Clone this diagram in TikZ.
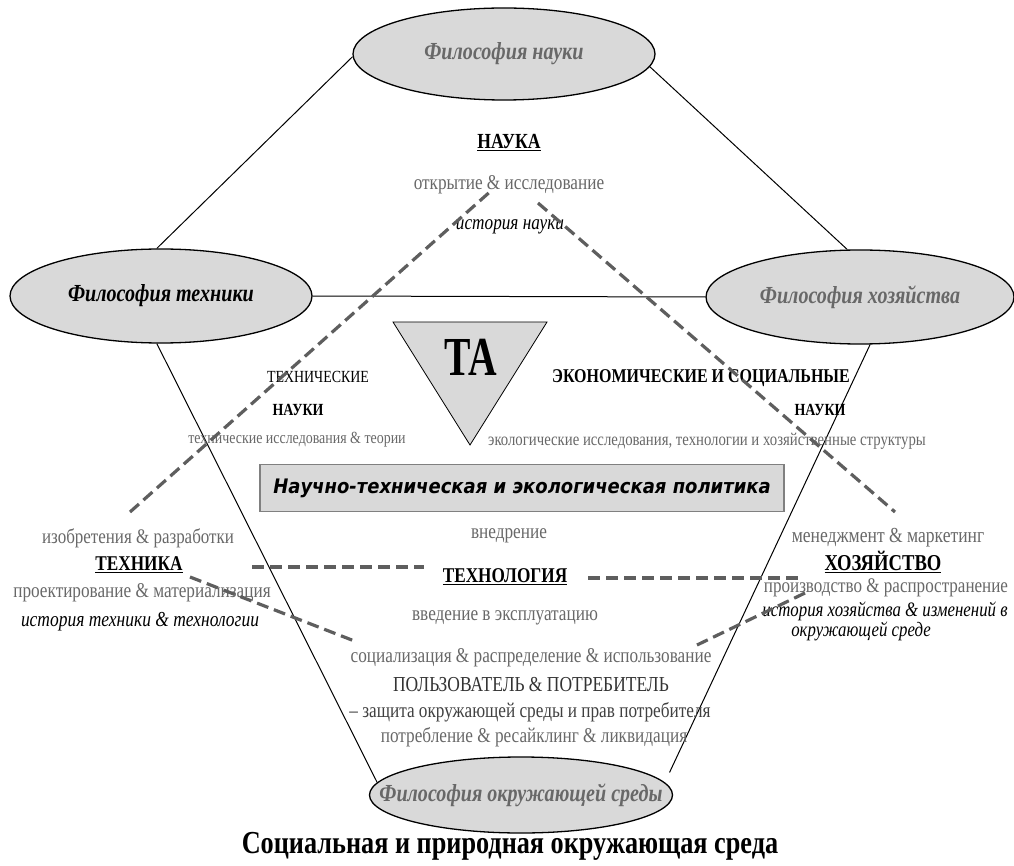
\documentclass[tikz,border=0pt]{standalone}
\usepackage{fontspec}
\setmainfont{Liberation Serif}[FakeStretch=0.82]
\newfontfamily\tafont{Liberation Serif}[FakeStretch=0.72]
\newfontfamily\boxfont{DejaVu Sans}[FakeStretch=0.9]
\usetikzlibrary{shapes.geometric}
\definecolor{fillg}{HTML}{D9D9D9}
\definecolor{txtg}{HTML}{686868}
\definecolor{dashg}{HTML}{5E5E5E}
\definecolor{boxline}{HTML}{808080}
\begin{document}
\begin{tikzpicture}[x=1pt,y=-1pt,
  phil/.style={ellipse, draw=black, line width=1.3pt, fill=fillg, inner sep=0pt,
    font=\fontsize{24.5}{26}\selectfont\bfseries\itshape},
  conn/.style={line width=1pt},
  dsh/.style={draw=dashg, line width=3.2pt, dash pattern=on 12pt off 6pt},
  t/.style={inner sep=0pt, anchor=center},
  g/.style={t, text=txtg},
]
\useasboundingbox (0,0) rectangle (1014,866);

% ellipses
\node[phil, minimum width=302, minimum height=92, text=txtg] (fn) at (504,54) {\makebox[0pt]{Философия науки}};
\node[phil, minimum width=302, minimum height=94, text=black] (ft) at (161,296) {\makebox[0pt]{Философия техники}};
\node[phil, minimum width=308, minimum height=94, text=txtg] (fh) at (860,297) {\makebox[0pt]{Философия хозяйства}};
\node[phil, minimum width=303, minimum height=76, text=txtg] (fo) at (521,795) {\makebox[0pt]{Философия окружающей среды}};

% solid connectors
\draw[conn] (fn.181) -- (ft.95);
\draw[conn] (fn.-5) -- (fh.105);
\draw[conn] (ft.east) -- (fh.west);
\draw[conn] (ft.265) -- (fo.175);
\draw[conn, shorten >=11pt] (fh.-78) -- (fo.5);

% triangle TA
\filldraw[fill=fillg, draw=black, line width=0.8pt] (393,322) -- (547,322) -- (470,445) -- cycle;
\node[t, font=\tafont\fontsize{55}{57}\selectfont\bfseries] (ta) at (471,357) {TA};

% policy box
\node[draw=boxline, line width=1.3pt, fill=fillg, minimum width=524, minimum height=47,
  font=\boxfont\fontsize{20}{22}\selectfont\bfseries\itshape] (pol) at (522,488)
  {Научно-техническая и экологическая политика};

% NAUKA block
\node[t, font=\fontsize{21.5}{23}\selectfont\bfseries] (nauka) at (509,143) {\underline{НАУКА}};
\node[g, font=\fontsize{21}{23}\selectfont] (otkr) at (509,185) {открытие \& исследование};
\node[t, font=\fontsize{21}{23}\selectfont\itshape] (istn) at (510,227) {история науки};

% technical sciences
\node[t, font=\fontsize{17}{19}\selectfont] (tn1) at (318,377) {ТЕХНИЧЕСКИЕ};
\node[t, font=\fontsize{17}{19}\selectfont\bfseries] (tn2) at (298,410) {НАУКИ};
\node[g, font=\fontsize{17}{19}\selectfont] (tn3) at (297,440) {технические исследования \& теории};

% economic sciences
\node[t, font=\fontsize{19.5}{21}\selectfont\bfseries] (en1) at (701,378) {ЭКОНОМИЧЕСКИЕ И СОЦИАЛЬНЫЕ};
\node[t, font=\fontsize{17}{19}\selectfont\bfseries] (en2) at (820,410) {НАУКИ};
\node[g, font=\fontsize{18}{20}\selectfont] (en3) at (707,441) {экологические исследования, технологии и хозяйственные структуры};

% TEHNIKA block
\node[g, font=\fontsize{20.7}{22}\selectfont] (izob) at (138,538) {изобретения \& разработки};
\node[t, font=\fontsize{21}{23}\selectfont\bfseries] (tech) at (139,565) {\underline{ТЕХНИКА}};
\node[g, font=\fontsize{21}{23}\selectfont] (proe) at (142,593) {проектирование \& материализация};
\node[t, font=\fontsize{21.3}{23}\selectfont\itshape] (istt) at (140,622) {история техники \& технологии};

% TECHNOLOGY block
\node[g, font=\fontsize{21}{23}\selectfont] (vned) at (509,536) {внедрение};
\node[t, font=\fontsize{21}{23}\selectfont\bfseries] (tlg) at (505,577) {\underline{ТЕХНОЛОГИЯ}};
\node[g, font=\fontsize{21}{23}\selectfont] (vvd) at (505,618) {введение в эксплуатацию};

% user block
\node[g, font=\fontsize{21}{23}\selectfont] (soc) at (531,658) {социализация \& распределение \& использование};
\node[t, text=black!80, font=\fontsize{21.3}{23}\selectfont] (pol2) at (531,685) {ПОЛЬЗОВАТЕЛЬ \& ПОТРЕБИТЕЛЬ};
\node[t, text=black!75, font=\fontsize{21}{23}\selectfont] (zash) at (530,712) {– защита окружающей среды и прав потребителя};
\node[g, font=\fontsize{21}{23}\selectfont] (potr) at (534,737) {потребление \& ресайклинг \& ликвидация};

% HOZ block
\node[g, font=\fontsize{21.4}{23}\selectfont] (men) at (888,538) {менеджмент \& маркетинг};
\node[t, font=\fontsize{22.7}{24}\selectfont\bfseries] (hoz) at (883,562) {\underline{ХОЗЯЙСТВО}};
\node[g, font=\fontsize{20.8}{22}\selectfont] (proi) at (886,588) {производство \& распространение};
\node[t, font=\fontsize{20.5}{22}\selectfont\itshape] (isth1) at (885,611) {история хозяйства \& изменений в};
\node[t, font=\fontsize{20.5}{22}\selectfont\itshape] (isth2) at (861,631) {окружающей среде};

% bottom caption
\node[t, font=\fontsize{32}{34}\selectfont\bfseries] (soc2) at (510,846) {Социальная и природная окружающая среда};

% dashed connectors
\coordinate (d1a) at (130,512);
\coordinate (d1b) at (492,190);
\coordinate (d2a) at (538,203);
\coordinate (d2b) at (895,512);
\coordinate (d3a) at (252,567);
\coordinate (d3b) at (424,567);
\coordinate (d4a) at (588,578);
\coordinate (d4b) at (802,578);
\coordinate (d5a) at (190,577);
\coordinate (d5b) at (357,642);
\coordinate (d6a) at (805,593);
\coordinate (d6b) at (697,645);
\draw[dsh] (d1a) -- (d1b);
\draw[dsh] (d2a) -- (d2b);
\draw[dsh] (d3a) -- (d3b);
\draw[dsh] (d4a) -- (d4b);
\draw[dsh] (d5a) -- (d5b);
\draw[dsh] (d6a) -- (d6b);
\end{tikzpicture}
\end{document}
